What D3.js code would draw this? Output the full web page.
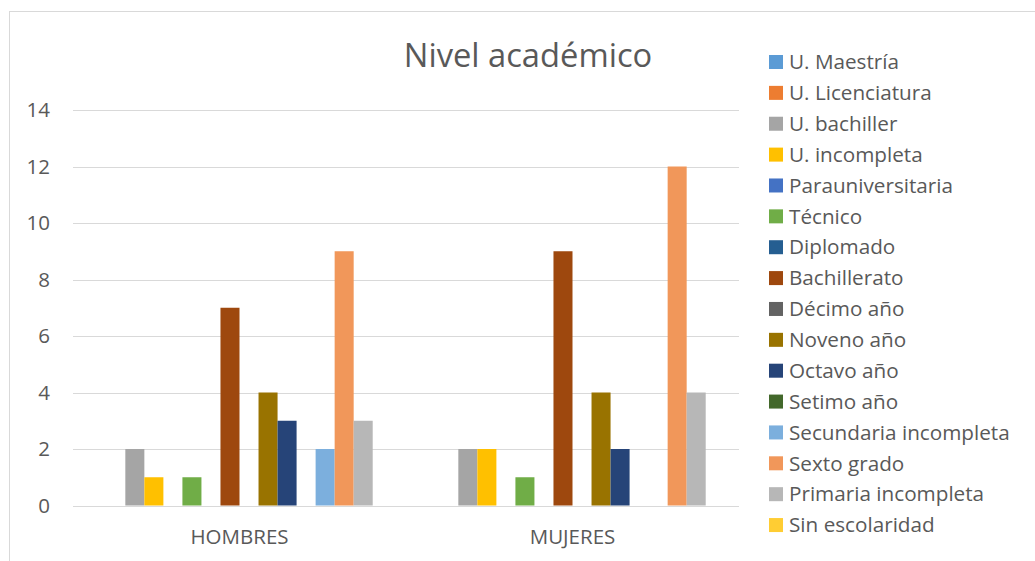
<!DOCTYPE html>
<html><head><meta charset="utf-8">
<script src="https://cdn.jsdelivr.net/npm/d3@7"></script>
<style>body{margin:0;background:#fff}svg{display:block}text{font-family:"Open Sans",sans-serif;fill:#595959}</style>
</head><body>
<svg id="c" width="1035" height="561"></svg>
<script>
const categories = ["HOMBRES", "MUJERES"];
const seriesNames = ["U. Maestría","U. Licenciatura","U. bachiller","U. incompleta","Parauniversitaria","Técnico","Diplomado","Bachillerato","Décimo año","Noveno año","Octavo año","Setimo año","Secundaria incompleta","Sexto grado","Primaria incompleta","Sin escolaridad"];
const seriesColors = ["#5B9BD5","#ED7D31","#A5A5A5","#FFC000","#4472C4","#70AD47","#255E91","#9E480E","#636363","#997300","#264478","#43682B","#7CAFDD","#F1975A","#B7B7B7","#FFCD33"];
const hombres = [0,0,2,1,0,1,0,7,0,4,3,0,2,9,3,0];
const mujeres = [0,0,2,2,0,1,0,9,0,4,2,0,0,12,4,0];
const yTicks = [0,2,4,6,8,10,12,14];
const title = "Nivel académico";

(function(){
const values = [hombres, mujeres];
const svg = d3.select("#c");
svg.append("rect").attr("x",9.5).attr("y",11.5).attr("width",1100).attr("height",700)
  .attr("fill","none").attr("stroke","#d9d9d9").attr("stroke-width",1);

const pL = 73, pR = 739, pT = 110, pB = 505.5;
const x0 = d3.scaleBand().domain(categories).range([pL,pR]).paddingInner(0).paddingOuter(0);
const gapRatio = 1.5;
const n = seriesNames.length;
const bw = x0.bandwidth()/(n+gapRatio);
const x1 = d3.scaleBand().domain(d3.range(n)).range([bw*gapRatio/2, bw*gapRatio/2 + bw*n]).padding(0);
const y = d3.scaleLinear().domain([0,14]).range([pB, pT]);

svg.append("g").selectAll("line").data(yTicks).join("line")
  .attr("x1",pL).attr("x2",pR)
  .attr("y1",d=>Math.round(y(d))+0.5).attr("y2",d=>Math.round(y(d))+0.5)
  .attr("stroke","#d9d9d9").attr("stroke-width",1);

svg.append("g").selectAll("text").data(yTicks).join("text")
  .attr("x",50).attr("y",d=>y(d)).attr("dy","0.35em").attr("text-anchor","end")
  .style("font-size","20.5px").text(d=>d);

const g = svg.append("g");
categories.forEach((c,ci)=>{
  g.append("g").attr("transform",`translate(${x0(c)},0)`)
   .selectAll("rect").data(values[ci].map((v,i)=>({v,i}))).join("rect")
   .attr("x",d=>x1(d.i)).attr("width",x1.bandwidth())
   .attr("y",d=>y(d.v)).attr("height",d=>y(0)-y(d.v))
   .attr("fill",d=>seriesColors[d.i]);
});

svg.append("g").selectAll("text").data(categories).join("text")
  .attr("x",d=>x0(d)+x0.bandwidth()/2).attr("y",537).attr("dy","0.35em")
  .attr("text-anchor","middle").style("font-size","20.5px").text(d=>d);

svg.append("text").attr("x",528).attr("y",56).attr("dy","0.35em").attr("text-anchor","middle")
  .style("font-size","32.7px").text(title);

const lg = svg.append("g").selectAll("g").data(seriesNames).join("g")
  .attr("transform",(d,i)=>`translate(769,${62+i*30.87})`);
lg.append("rect").attr("x",0).attr("y",-7).attr("width",14).attr("height",14).attr("fill",(d,i)=>seriesColors[i]);
lg.append("text").attr("x",20).attr("y",0).attr("dy","0.35em").style("font-size","20.7px").text(d=>d);
})();
</script>
</body></html>
